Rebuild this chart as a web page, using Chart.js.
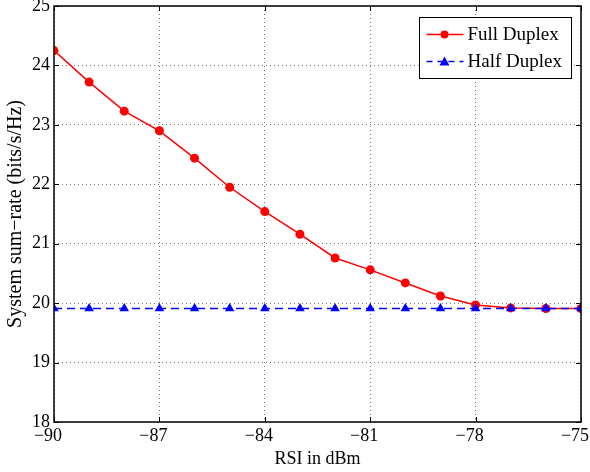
<!DOCTYPE html>
<html><head><meta charset="utf-8">
<script src="https://cdn.jsdelivr.net/npm/chart.js@4.4.1/dist/chart.umd.min.js"></script>
<style>html,body{margin:0;padding:0;background:#fff}#wrap{width:590px;height:472px}</style>
</head><body><div id="wrap"><canvas id="c" width="590" height="472"></canvas></div>
<script>
const rsi = [-90,-89,-88,-87,-86,-85,-84,-83,-82,-81,-80,-79,-78,-77,-76,-75];
const fullDuplex = [24.25,23.72,23.23,22.90,22.44,21.95,21.54,21.16,20.76,20.56,20.34,20.12,19.97,19.92,19.91,19.91];
const halfDuplex = [19.91,19.91,19.91,19.91,19.91,19.91,19.91,19.91,19.91,19.91,19.91,19.91,19.91,19.91,19.91,19.91];
const xTicks = [-90,-87,-84,-81,-78,-75];
const yTicks = [18,19,20,21,22,23,24,25];
const seriesNames = ['Full Duplex','Half Duplex'];

const FONT = "'Liberation Serif', 'Times New Roman', serif";

const framePlugin = {
  id: 'frame',
  afterDraw(chart) {
    const {ctx, chartArea: a, scales} = chart;
    ctx.save();
    ctx.strokeStyle = '#000';
    ctx.lineWidth = 1.5;
    ctx.strokeRect(a.left, a.top, a.right - a.left, a.bottom - a.top);
    ctx.lineWidth = 1;
    const tl = 5;
    ctx.beginPath();
    xTicks.forEach(v => {
      const x = Math.round(scales.x.getPixelForValue(v)) + 0.5;
      ctx.moveTo(x, a.bottom); ctx.lineTo(x, a.bottom - tl);
      ctx.moveTo(x, a.top); ctx.lineTo(x, a.top + tl);
    });
    yTicks.forEach(v => {
      const y = Math.round(scales.y.getPixelForValue(v)) + 0.5;
      ctx.moveTo(a.left, y); ctx.lineTo(a.left + tl, y);
      ctx.moveTo(a.right, y); ctx.lineTo(a.right - tl, y);
    });
    ctx.stroke();

    // legend
    const bx = 419.5, by = 17.5, bw = 152, bh = 61;
    ctx.fillStyle = '#fff';
    ctx.fillRect(bx, by, bw, bh);
    ctx.strokeRect(bx, by, bw, bh);
    const rows = [
      {y: by + 17, color: '#ff0000', dash: [], style: 'circle'},
      {y: by + 44, color: '#0000ff', dash: [6,5], style: 'tri'}
    ];
    rows.forEach((r, i) => {
      ctx.strokeStyle = r.color; ctx.fillStyle = r.color; ctx.lineWidth = 1.3;
      ctx.setLineDash(r.dash);
      ctx.beginPath(); ctx.moveTo(bx + 7, r.y); ctx.lineTo(bx + 44, r.y); ctx.stroke();
      ctx.setLineDash([]);
      const cx = bx + 25;
      ctx.beginPath();
      if (r.style === 'circle') ctx.arc(cx, r.y, 4, 0, Math.PI * 2);
      else { ctx.moveTo(cx, r.y - 5); ctx.lineTo(cx + 5, r.y + 4); ctx.lineTo(cx - 5, r.y + 4); ctx.closePath(); }
      ctx.fill();
      ctx.fillStyle = '#000';
      ctx.font = '19px ' + FONT;
      ctx.textBaseline = 'middle';
      ctx.textAlign = 'left';
      ctx.fillText(seriesNames[i], bx + 48, r.y + 1);
    });
    ctx.restore();
  }
};

new Chart(document.getElementById('c'), {
  type: 'line',
  data: {
    datasets: [
      {label: seriesNames[0], data: rsi.map((x, i) => ({x, y: fullDuplex[i]})), borderColor: '#ff0000', backgroundColor: '#ff0000',
       borderWidth: 1.5, pointStyle: 'circle', pointRadius: 4.5, pointBorderWidth: 0, tension: 0, order: 2},
      {label: seriesNames[1], data: rsi.map((x, i) => ({x, y: halfDuplex[i]})), borderColor: '#0000ff', backgroundColor: '#0000ff',
       borderWidth: 1.5, borderDash: [8,5], pointStyle: 'triangle', pointRadius: 5.5, pointBorderWidth: 0, tension: 0, order: 1}
    ]
  },
  options: {
    responsive: false, animation: false, devicePixelRatio: 1,
    layout: {padding: {top: 6, right: 9, left: 0, bottom: 0}},
    plugins: {legend: {display: false}, tooltip: {enabled: false}},
    scales: {
      x: {
        type: 'linear', min: -90, max: -75,
        afterBuildTicks: s => { s.ticks = xTicks.map(v => ({value: v})); },
        afterFit: s => { s.height = 50; s.paddingLeft = 0; s.paddingRight = 0; },
        ticks: {font: {family: FONT, size: 18}, color: '#000', padding: 3, maxRotation: 0, labelOffset: -6,
                callback: v => String(v).replace('-', '\u2212')},
        grid: {color: '#777', lineWidth: 1, drawTicks: false, tickLength: 0},
        border: {display: false, dash: [1,3]},
        title: {display: true, text: 'RSI in dBm', font: {family: FONT, size: 18}, color: '#000', padding: {top: 0, bottom: 2}}
      },
      y: {
        type: 'linear', min: 18, max: 25,
        afterBuildTicks: s => { s.ticks = yTicks.map(v => ({value: v})); },
        afterFit: s => { s.width = 54; s.paddingTop = 0; s.paddingBottom = 0; },
        ticks: {font: {family: FONT, size: 18}, color: '#000', padding: 4},
        grid: {color: '#777', lineWidth: 1, drawTicks: false, tickLength: 0},
        border: {display: false, dash: [1,3]},
        title: {display: true, text: 'System sum\u2212rate (bits/s/Hz)', font: {family: FONT, size: 20}, color: '#000', padding: {top: 4, bottom: 0}}
      }
    }
  },
  plugins: [framePlugin]
});
</script></body></html>
